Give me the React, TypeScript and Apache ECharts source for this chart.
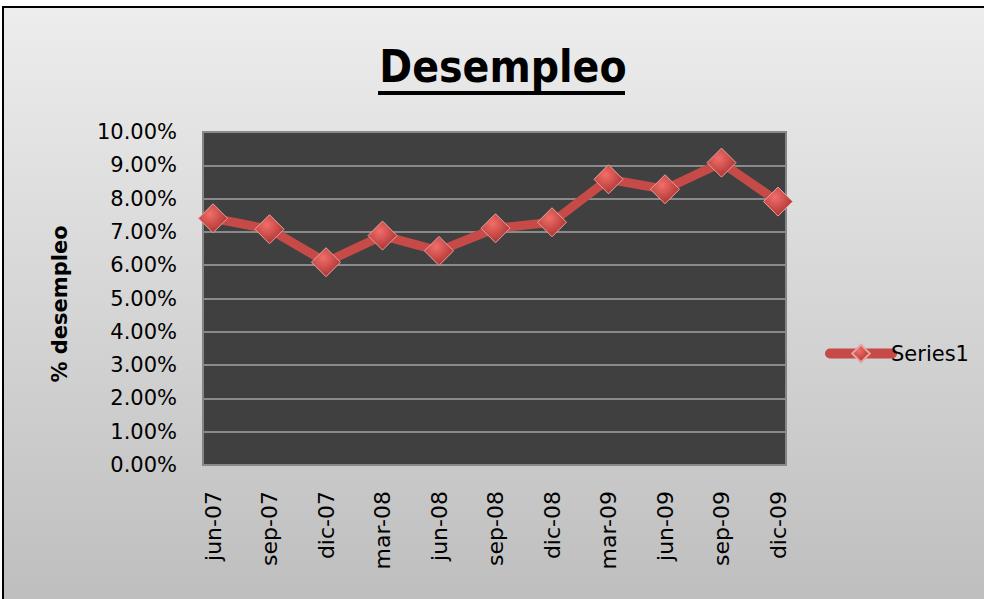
import React, { useEffect, useRef } from "react";
import * as echarts from "echarts";

const categories = ["jun-07", "sep-07", "dic-07", "mar-08", "jun-08", "sep-08", "dic-08", "mar-09", "jun-09", "sep-09", "dic-09"];
const unemployment = [7.41, 7.08, 6.09, 6.89, 6.43, 7.11, 7.29, 8.58, 8.28, 9.08, 7.91];
const yMin = 0;
const yMax = 10;
const yInterval = 1;
const seriesName = "Series1";
const chartTitle = "Desempleo";
const yTitle = "% desempleo";

const FONT = "DejaVu Sans";

export default function App() {
  const ref = useRef<HTMLDivElement>(null);
  useEffect(() => {
    if (!ref.current) return;
    const chart = echarts.init(ref.current, null, { renderer: "svg" });
    const option: any = {
      animation: false,
      backgroundColor: "#ffffff",
      graphic: [
        {
          type: "rect",
          z: -10,
          silent: true,
          shape: { x: 3, y: 7, width: 990, height: 610 },
          style: {
            fill: new echarts.graphic.LinearGradient(0, 0, 0, 1, [
              { offset: 0, color: "#ededed" },
              { offset: 1, color: "#bdbdbd" },
            ]),
            stroke: "#000000",
            lineWidth: 2,
          },
        },
        {
          type: "text",
          x: 503,
          y: 88,
          style: {
            text: chartTitle,
            fontFamily: "DejaVu Sans Condensed, DejaVu Sans",
            fontWeight: "bold",
            fontSize: 44,
            fill: "#000",
            textAlign: "center",
            textVerticalAlign: "bottom",
          },
        },
        {
          type: "rect",
          shape: { x: 378, y: 91, width: 247, height: 4 },
          style: { fill: "#000" },
        },
        {
          type: "text",
          x: 60,
          y: 304,
          rotation: Math.PI / 2,
          style: {
            text: yTitle,
            fontFamily: FONT,
            fontWeight: "bold",
            fontSize: 21,
            fill: "#000",
            textAlign: "center",
            textVerticalAlign: "middle",
          },
        },
      ],
      legend: {
        show: true,
        left: 820,
        top: 338,
        orient: "vertical",
        itemWidth: 62,
        itemHeight: 22,
        itemGap: 4,
        data: [seriesName],
        textStyle: { fontFamily: FONT, fontSize: 21, color: "#000", padding: [0, 0, 0, -6] },
        lineStyle: { width: 10, cap: "round", color: "#c64b48" },
      },
      grid: [
        {
          left: 203,
          top: 132,
          width: 583,
          height: 333,
          show: true,
          backgroundColor: "#404040",
          borderColor: "#858585",
          borderWidth: 2,
        },
        {
          left: 213,
          top: 132,
          width: 565,
          height: 333,
        },
      ],
      xAxis: [
        {
          gridIndex: 0,
          type: "category",
          data: categories,
          show: false,
        },
        {
          gridIndex: 1,
          type: "category",
          data: categories,
          boundaryGap: false,
          axisLine: { show: false },
          axisTick: { show: false },
          splitLine: { show: false },
          axisLabel: {
            rotate: 90,
            margin: 26,
            interval: 0,
            fontFamily: FONT,
            fontSize: 22,
            color: "#000",
          },
        },
      ],
      yAxis: [
        {
          gridIndex: 0,
          type: "value",
          min: yMin,
          max: yMax,
          interval: yInterval,
          axisLine: { show: false },
          axisTick: { show: false },
          axisLabel: {
            margin: 26,
            fontFamily: FONT,
            fontSize: 21,
            color: "#000",
            formatter: (v: number) => v.toFixed(2) + "%",
          },
          splitLine: { show: true, lineStyle: { color: "#8a8a8a", width: 2 } },
        },
        {
          gridIndex: 1,
          type: "value",
          min: yMin,
          max: yMax,
          interval: yInterval,
          show: false,
          splitLine: { show: false },
        },
      ],
      series: [
        {
          name: seriesName,
          type: "line",
          xAxisIndex: 1,
          yAxisIndex: 1,
          data: unemployment,
          symbol: "diamond",
          symbolSize: 29,
          lineStyle: { color: "#c64b48", width: 9, cap: "round", join: "round" },
          itemStyle: {
            color: new echarts.graphic.RadialGradient(0.4, 0.35, 0.7, [
              { offset: 0, color: "#f26e6a" },
              { offset: 1, color: "#a8302d" },
            ]),
            borderColor: "#e8a3a1",
            borderWidth: 1,
          },
        },
      ],
    };
    chart.setOption(option);
    return () => chart.dispose();
  }, []);
  return (
    <div
      ref={ref}
      style={{ position: "fixed", left: 0, top: 0, width: 984, height: 599 }}
    />
  );
}
